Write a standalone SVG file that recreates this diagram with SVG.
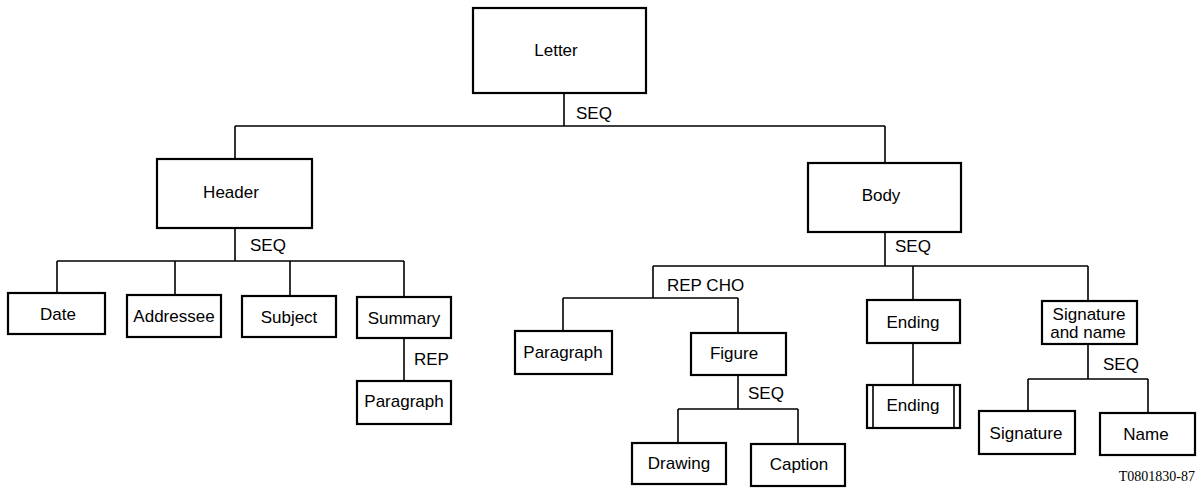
<svg xmlns="http://www.w3.org/2000/svg" width="1200" height="492" viewBox="0 0 1200 492">
<style>
.box{fill:#fff;stroke:#000;stroke-width:2.2}
.ln{fill:none;stroke:#000;stroke-width:1.6}
.t{font-family:"Liberation Sans",Arial,sans-serif;font-size:17px;fill:#000;text-anchor:middle}
.lb{font-family:"Liberation Sans",Arial,sans-serif;font-size:17px;fill:#000}
.ref{font-family:"Liberation Serif","Times New Roman",serif;font-size:14px;fill:#000;text-anchor:end}
</style>
<rect width="1200" height="492" fill="#fff"/>
<g id="connectors">
<path class="ln" d="M564 93V126M235 126H885M235 126V159M885 126V163"/>
<path class="ln" d="M235 228V261M57 261H404M57 261V293M175 261V295M290 261V296M404 261V297M404 338V381"/>
<path class="ln" d="M885 232V266M653 266H1088M653 266V298M563 298H738M563 298V331M738 298V333M913 266V300M1088 266V301"/>
<path class="ln" d="M738 375V409M678 409H798M678 409V443M798 409V444M913 343V385M1088 344V379M1028 379H1148M1028 379V411M1148 379V413"/>
<text class="lb" x="576" y="119">SEQ</text>
<text class="lb" x="250" y="251">SEQ</text>
<text class="lb" x="895" y="252">SEQ</text>
<text class="lb" x="414" y="365">REP</text>
<text class="lb" x="667" y="291">REP CHO</text>
<text class="lb" x="748" y="399">SEQ</text>
<text class="lb" x="1103" y="370">SEQ</text>
</g>
<g id="letter"><rect class="box" x="473" y="8" width="173" height="85"/><text class="t" x="556" y="56">Letter</text></g>
<g id="header"><rect class="box" x="157" y="159" width="155" height="69"/><text class="t" x="231" y="198">Header</text></g>
<g id="body"><rect class="box" x="808" y="163" width="153" height="69"/><text class="t" x="881" y="201">Body</text></g>
<g id="date"><rect class="box" x="8" y="293" width="97" height="41"/><text class="t" x="58" y="320">Date</text></g>
<g id="addressee"><rect class="box" x="127" y="295" width="94" height="42"/><text class="t" x="174" y="322">Addressee</text></g>
<g id="subject"><rect class="box" x="242" y="296" width="94" height="41"/><text class="t" x="289" y="323">Subject</text></g>
<g id="summary"><rect class="box" x="357" y="297" width="94" height="41"/><text class="t" x="404" y="324">Summary</text></g>
<g id="paragraph1"><rect class="box" x="357" y="381" width="94" height="43"/><text class="t" x="404" y="407">Paragraph</text></g>
<g id="paragraph2"><rect class="box" x="515" y="331" width="97" height="43"/><text class="t" x="563" y="358">Paragraph</text></g>
<g id="figure"><rect class="box" x="691" y="333" width="95" height="42"/><text class="t" x="734" y="359">Figure</text></g>
<g id="drawing"><rect class="box" x="632" y="443" width="94" height="41"/><text class="t" x="679" y="469">Drawing</text></g>
<g id="caption"><rect class="box" x="751" y="444" width="94" height="42"/><text class="t" x="799" y="470">Caption</text></g>
<g id="ending1"><rect class="box" x="867" y="300" width="93" height="43"/><text class="t" x="913" y="328">Ending</text></g>
<g id="ending2"><rect class="box" x="867" y="385" width="93" height="43"/><path class="ln" d="M873 385V428M954 385V428"/><text class="t" x="913" y="411">Ending</text></g>
<g id="signature-and-name"><rect class="box" x="1042" y="301" width="95" height="43"/><text class="t" x="1089" y="320">Signature</text><text class="t" x="1088" y="338">and name</text></g>
<g id="signature"><rect class="box" x="979" y="411" width="96" height="43"/><text class="t" x="1026" y="439">Signature</text></g>
<g id="name"><rect class="box" x="1100" y="413" width="95" height="42"/><text class="t" x="1146" y="440">Name</text></g>
<text class="ref" x="1195" y="481">T0801830-87</text>
</svg>
